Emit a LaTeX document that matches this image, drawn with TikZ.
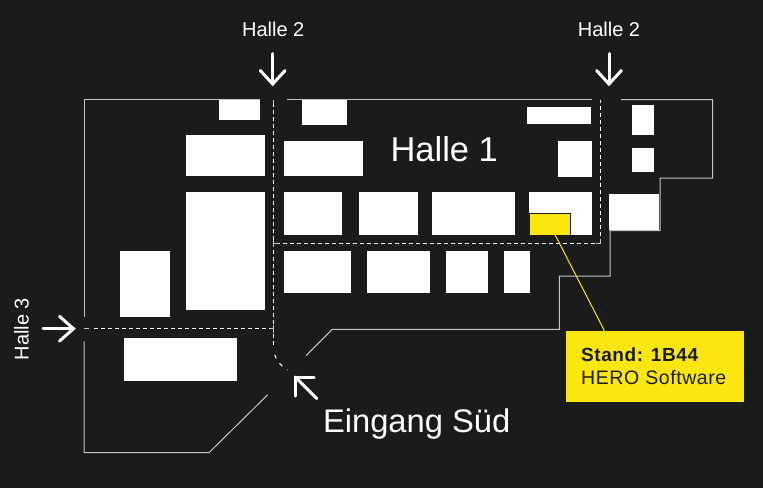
\documentclass[tikz,border=0pt]{standalone}
\usepackage{fontspec}
\setmainfont{Liberation Sans}
\definecolor{bgdark}{HTML}{1A1C1B}
\definecolor{stand}{HTML}{FBE60F}
\definecolor{wall}{HTML}{C4C5C4}
\tikzset{
  booth/.style={fill=white,draw=none,inner sep=0pt,outer sep=0pt,anchor=north west},
  wallline/.style={draw=wall,line width=1pt},
  aisle/.style={draw=white,line width=1pt,dash pattern=on 4.2pt off 2.8pt},
  tick/.style={draw=wall,line width=1pt},
  gate/.style={draw=white,line width=3pt,line cap=round,line join=miter},
  lbl/.style={text=white,inner sep=0pt,outer sep=0pt},
}
\newcommand{\boothbox}[5]{\node[booth,minimum width={(#4-#2)*1pt},minimum height={(#5-#3)*1pt}] (#1) at (#2,#3) {};}
\begin{document}
\begin{tikzpicture}[x=1pt,y=-1pt]
\fill[bgdark] (0,0) rectangle (763,488);
\useasboundingbox (0,0) rectangle (763,488);
% walls
\draw[wallline] (260,99.5) -- (84,99.5) -- (84,317.3);
\draw[wallline] (84,341.3) -- (84,452.7) -- (209,452.7) -- (267.7,394.7);
\draw[wallline] (287.3,99.5) -- (592,99.5);
\draw[wallline] (621,99.5) -- (712.7,99.5) -- (712.7,178) -- (660,178) -- (660,230.5) -- (610,230.5) -- (610,276) -- (559.3,276) -- (559.3,329.3) -- (332.3,329.3) -- (306,355.7);
% booths
\boothbox{b1}{218.7}{99.5}{260}{120.3}
\boothbox{b2}{301.7}{99.5}{347}{124.7}
\boothbox{b3}{185.7}{134.7}{265.3}{176.3}
\boothbox{b4}{284.3}{141.3}{363.3}{176.3}
\boothbox{b5}{185.7}{192}{265.3}{310}
\boothbox{b6}{284.3}{192}{342.3}{234.7}
\boothbox{b7}{359.3}{192}{417.7}{234.7}
\boothbox{b8}{431.7}{192}{514.7}{234.7}
\boothbox{b9}{529.3}{192.3}{592}{234.7}
\boothbox{b10}{527.3}{107.3}{590.7}{124}
\boothbox{b11}{558.3}{141.3}{592}{176.7}
\boothbox{b12}{632}{105.3}{654}{135.3}
\boothbox{b13}{632}{147.7}{654}{172}
\boothbox{b14}{609.3}{193.7}{659.3}{230}
\boothbox{b15}{284.3}{251}{351}{293.3}
\boothbox{b16}{367.3}{251}{430}{293.3}
\boothbox{b17}{446.3}{251}{488}{293.3}
\boothbox{b18}{504.3}{251}{529.7}{293.3}
\boothbox{b19}{120.3}{251}{170.3}{317.3}
\boothbox{b20}{124.3}{337.7}{237}{380.7}
% aisles
\draw[aisle] (273.7,103) -- (273.7,346.7);
\draw[aisle] (276,243.3) -- (600.3,243.3);
\draw[aisle] (600.3,243.3) -- (600.3,99.5);
\draw[aisle] (94,328.7) -- (273.7,328.7);
\draw[white,line width=1pt,dash pattern=on 4pt off 6pt] (274.7,354.7) .. controls (276.5,361) and (281,366) .. (287.5,370);
% small ticks
\draw[tick] (84,328.7) -- (88.5,328.7);
\draw[tick] (273.7,99.5) -- (273.7,104);
\draw[tick] (273.7,239.5) -- (273.7,247) (273.7,243.3) -- (278.5,243.3);
\draw[tick] (269.5,328.7) -- (273.7,328.7) (273.7,325) -- (273.7,333);
\draw[tick] (596,243.3) -- (600.3,243.3) -- (600.3,239);
% stand
\node[fill=stand,draw=bgdark,line width=1pt,inner sep=0pt,outer sep=0pt,anchor=north west,minimum width=41pt,minimum height=21.2pt] (standbox) at (529.3,213.8) {};
% callout
\node[fill=stand,draw=none,inner sep=0pt,outer sep=0pt,anchor=north west,minimum width=177.7pt,minimum height=71pt] (callout) at (566,331.3) {};
\coordinate (lead) at (555,234.7);
\coordinate (leadend) at (604.7,331.3);
\draw[stand,line width=1pt] (lead) -- (leadend);
\node[anchor=base west,inner sep=0pt,text=bgdark,font=\fontsize{19}{22}\selectfont\bfseries\addfontfeature{LetterSpace=3}] (stnum) at (581,361.7) {Stand: 1B44};
\node[anchor=base west,inner sep=0pt,text=bgdark,font=\fontsize{19.5}{22}\selectfont\addfontfeature{LetterSpace=3}] (stname) at (581,384.3) {HERO Software};
% gate arrows
\coordinate (a1s) at (272.7,53.5); \coordinate (a1t) at (272.7,84);
\draw[gate] (a1s) -- (a1t); \draw[gate] (260.3,70.5) -- (a1t) -- (285.1,70.5);
\coordinate (a2s) at (609,53.5); \coordinate (a2t) at (609,84);
\draw[gate] (a2s) -- (a2t); \draw[gate] (596.6,70.5) -- (a2t) -- (621.4,70.5);
\coordinate (a3s) at (43,328.7); \coordinate (a3t) at (73.5,328.7);
\draw[gate] (a3s) -- (a3t); \draw[gate] (59.5,316.3) -- (a3t) -- (59.5,341.1);
\coordinate (a4s) at (316.7,398.5); \coordinate (a4t) at (295.3,377);
\draw[gate] (a4s) -- (a4t); \draw[gate] (295.3,396) -- (a4t) -- (314.2,377);
% labels
\node[lbl,font=\fontsize{20}{24}\selectfont,anchor=base] (h2a) at (273.2,36) {Halle 2};
\node[lbl,font=\fontsize{20}{24}\selectfont,anchor=base] (h2b) at (609,36) {Halle 2};
\node[lbl,font=\fontsize{20}{24}\selectfont,anchor=base,rotate=90] (h3) at (28.5,329) {Halle 3};
\node[lbl,font=\fontsize{34.5}{40}\selectfont,anchor=base west] (h1) at (390.5,161) {Halle 1};
\node[lbl,font=\fontsize{32.7}{38}\selectfont,anchor=base west] (sued) at (323,432) {Eingang Süd};
\end{tikzpicture}
\end{document}
